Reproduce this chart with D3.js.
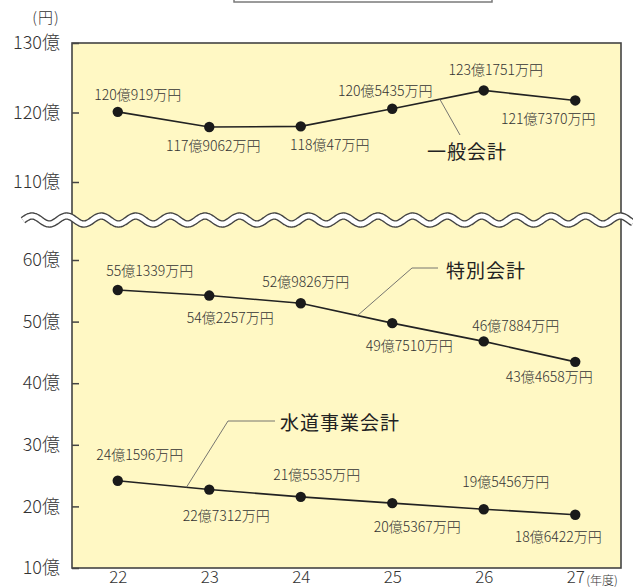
<!DOCTYPE html>
<html>
<head>
<meta charset="utf-8">
<script src="https://cdn.jsdelivr.net/npm/d3@7"></script>
<style>
  html, body { margin: 0; padding: 0; background: #fff; }
  svg { display: block; font-family: "Noto Sans CJK JP", "Noto Sans", sans-serif; }
</style>
</head>
<body>
<svg id="chart" width="633" height="588"></svg>
<script>
// Fiscal years (平成) and account balances in 万円
const years = ["22", "23", "24", "25", "26", "27"];
const generalAccount = [1200919, 1179062, 1180047, 1205435, 1231751, 1217370];
const specialAccount = [551339, 542257, 529826, 497510, 467884, 434658];
const waterAccount   = [241596, 227312, 215535, 205367, 195456, 186422];
const seriesNames = ["一般会計", "特別会計", "水道事業会計"];

// Axis ticks in 億円 for the two parts of the broken axis
const upperTicks = [110, 120, 130];
const lowerTicks = [10, 20, 30, 40, 50, 60];

const svg = d3.select("#chart");
const plot = { left: 72, right: 621, top: 43, bottom: 568 };

const x = d3.scalePoint().domain(years).range([plot.left, plot.right]).padding(0.5);
const yUpper = d3.scaleLinear().domain([110, 130]).range([182, plot.top]);
const yLower = d3.scaleLinear().domain([10, 60]).range([plot.bottom, 260]);

const toOku = v => v / 10000;
const fmtValue = v => `${Math.floor(v / 10000)}億${v % 10000}万円`;

// header box
svg.append("rect")
  .attr("x", 234).attr("y", -20).attr("width", 258).attr("height", 22)
  .attr("fill", "#fff").attr("stroke", "#7a7a7a").attr("stroke-width", 1.5);

// unit label
svg.append("text")
  .attr("x", 46).attr("y", 16)
  .attr("text-anchor", "middle").attr("dominant-baseline", "central")
  .attr("font-size", 15).attr("font-weight", 300).attr("fill", "#333").attr("letter-spacing", 1)
  .text("(円)");

// plot background
svg.append("rect")
  .attr("x", plot.left).attr("y", plot.top)
  .attr("width", plot.right - plot.left).attr("height", plot.bottom - plot.top)
  .attr("fill", "#fff8c4").attr("stroke", "#444").attr("stroke-width", 1.6);

// y axes (ticks point inward)
function yAxis(scale, ticks) {
  const g = svg.append("g").attr("transform", `translate(${plot.left},0)`)
    .call(d3.axisLeft(scale).tickValues(ticks).tickSizeInner(-7).tickSizeOuter(0)
      .tickPadding(12).tickFormat(d => `${d}億`));
  g.select(".domain").remove();
  g.selectAll(".tick line").attr("stroke", "#444").attr("stroke-width", 1.5);
  g.selectAll(".tick text").attr("font-size", 18).attr("font-weight", 300).attr("fill", "#333")
    .attr("font-family", "\"Noto Sans CJK JP\", sans-serif");
}
yAxis(yUpper, upperTicks);
yAxis(yLower, lowerTicks);

// x axis
const gx = svg.append("g").attr("transform", `translate(0,${plot.bottom})`)
  .call(d3.axisBottom(x).tickSize(0).tickPadding(3));
gx.select(".domain").remove();
gx.selectAll(".tick text").attr("font-size", 17).attr("font-weight", 300).attr("fill", "#333")
  .attr("font-family", "\"Noto Sans CJK JP\", sans-serif");
svg.append("text")
  .attr("x", x("27") + 11).attr("y", plot.bottom + 11)
  .attr("dominant-baseline", "central")
  .attr("font-size", 12).attr("font-weight", 300).attr("fill", "#333")
  .text("(年度)");

// label offsets relative to each point (layout only)
const labelOffsets = [
  [[20, -18], [4, 18], [29, 18], [-7, -19], [12, -21], [-27, 18]],
  [[32, -20], [21, 21], [5, -22], [17, 22], [32, -16], [-26, 14]],
  [[22, -27], [17, 25], [16, -23], [25, 23], [22, -28], [-17, 21]]
];

const series = [
  { values: generalAccount, y: yUpper },
  { values: specialAccount, y: yLower },
  { values: waterAccount,   y: yLower }
];

const line = d3.line();
series.forEach((s, si) => {
  const pts = s.values.map((v, i) => [x(years[i]), s.y(toOku(v))]);
  s.pts = pts;
  svg.append("path").attr("d", line(pts))
    .attr("fill", "none").attr("stroke", "#222").attr("stroke-width", 1.6);
  svg.append("g").selectAll("circle").data(pts).join("circle")
    .attr("cx", d => d[0]).attr("cy", d => d[1]).attr("r", 5.2).attr("fill", "#1a1a1a");
  svg.append("g").selectAll("text").data(s.values).join("text")
    .attr("x", (d, i) => pts[i][0] + labelOffsets[si][i][0])
    .attr("y", (d, i) => pts[i][1] + labelOffsets[si][i][1])
    .attr("text-anchor", "middle").attr("dominant-baseline", "central")
    .attr("font-size", 14).attr("font-weight", 300).attr("fill", "#333")
    .text(d => fmtValue(d));
});

// leader lines from a line segment to each series name
function along(pts, i, t) {
  return [pts[i][0] + (pts[i + 1][0] - pts[i][0]) * t, pts[i][1] + (pts[i + 1][1] - pts[i][1]) * t];
}
const leaders = [
  { start: along(series[0].pts, 3, 0.52), path: [[460, 135]], label: [467, 150] },
  { start: along(series[1].pts, 2, 0.62), path: [[412, 268], [438, 268]], label: [486, 269] },
  { start: along(series[2].pts, 0, 0.75), path: [[228, 421], [275, 421]], label: [340, 421] }
];
leaders.forEach((l, i) => {
  svg.append("path").attr("d", line([l.start, ...l.path]))
    .attr("fill", "none").attr("stroke", "#666").attr("stroke-width", 0.9);
  svg.append("text")
    .attr("x", l.label[0]).attr("y", l.label[1])
    .attr("text-anchor", "middle").attr("dominant-baseline", "central")
    .attr("font-size", 19).attr("fill", "#222").attr("letter-spacing", 1)
    .text(seriesNames[i]);
});

// axis break: doubled wavy band
const waveY = 220, amp = 4, period = 34.6, phase = 32;
const wavePts = d3.range(23, 634, 1).map(px => [px, waveY - amp * Math.cos(2 * Math.PI * (px - phase) / period)]);
const wave = d3.line().curve(d3.curveBasis)(wavePts);
svg.append("path").attr("d", wave).attr("fill", "none")
  .attr("stroke", "#444").attr("stroke-width", 7.5).attr("stroke-linecap", "butt");
svg.append("path").attr("d", wave).attr("fill", "none")
  .attr("stroke", "#fff").attr("stroke-width", 4.8).attr("stroke-linecap", "butt");
</script>
</body>
</html>
